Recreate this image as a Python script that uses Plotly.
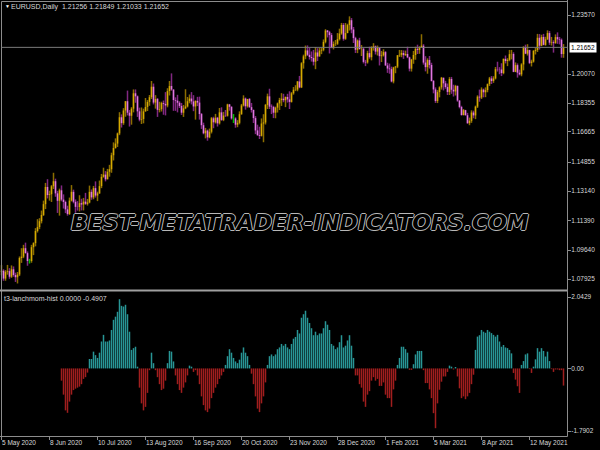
import plotly.graph_objects as go

# ---------------- data ----------------
date_tick_idx = [0, 24, 48, 72, 96, 120, 144, 168, 192, 216, 240, 264]
date_tick_text = ["5 May 2020", "8 Jun 2020", "10 Jul 2020", "13 Aug 2020", "16 Sep 2020",
                  "20 Oct 2020", "23 Nov 2020", "28 Dec 2020", "1 Feb 2021", "5 Mar 2021",
                  "8 Apr 2021", "12 May 2021"]
price_ticks = [1.23570, 1.20070, 1.18355, 1.16665, 1.14855, 1.13140, 1.11390, 1.09640, 1.07925]
price_tick_text = ["1.23570", "1.20070", "1.18355", "1.16665", "1.14855", "1.13140",
                   "1.11390", "1.09640", "1.07925"]
hist_ticks = [2.0429, 0.0, -1.7902]
hist_tick_text = ["2.0429", "0.00", "-1.7902"]
last_price = 1.21652
header_text = "EURUSD,Daily  1.21256 1.21849 1.21033 1.21652"
indicator_text = "t3-lanchmom-hist 0.0000 -0.4907"
watermark_text = "BEST-METATRADER-INDICATORS.COM"

close_ = [1.0841,1.0795,1.0835,1.0839,1.0806,1.0850,1.0816,1.0803,1.0819,1.0917,
1.0925,1.0975,1.0946,1.0899,1.0899,1.0981,1.1005,1.1077,1.1100,1.1135,
1.1172,1.1236,1.1338,1.1290,1.1295,1.1342,1.1372,1.1300,1.1256,1.1318,
1.1263,1.1249,1.1205,1.1178,1.1257,1.1309,1.1250,1.1220,1.1219,1.1242,
1.1234,1.1251,1.1238,1.1246,1.1309,1.1276,1.1331,1.1287,1.1300,1.1343,
1.1398,1.1411,1.1383,1.1428,1.1443,1.1526,1.1569,1.1595,1.1655,1.1751,
1.1716,1.1791,1.1846,1.1778,1.1760,1.1802,1.1893,1.1875,1.1786,1.1737,
1.1741,1.1786,1.1812,1.1842,1.1870,1.1932,1.1838,1.1859,1.1795,1.1799,
1.1835,1.1830,1.1821,1.1906,1.1936,1.1915,1.1853,1.1849,1.1837,1.1818,
1.1778,1.1804,1.1815,1.1846,1.1862,1.1845,1.1815,1.1848,1.1838,1.1770,
1.1704,1.1656,1.1672,1.1632,1.1665,1.1745,1.1721,1.1748,1.1715,1.1780,
1.1735,1.1761,1.1760,1.1827,1.1813,1.1744,1.1744,1.1707,1.1718,1.1769,
1.1821,1.1862,1.1816,1.1859,1.1811,1.1794,1.1746,1.1673,1.1646,1.1641,
1.1714,1.1720,1.1824,1.1875,1.1814,1.1812,1.1778,1.1808,1.1833,1.1853,
1.1861,1.1852,1.1871,1.1857,1.1842,1.1893,1.1914,1.1915,1.1963,1.1928,
1.2071,1.2112,1.2147,1.2121,1.2108,1.2102,1.2080,1.2135,1.2111,1.2146,
1.2151,1.2198,1.2265,1.2255,1.2238,1.2164,1.2185,1.2187,1.2214,1.2247,
1.2298,1.2216,1.2250,1.2297,1.2326,1.2271,1.2220,1.2151,1.2206,1.2155,
1.2157,1.2079,1.2076,1.2131,1.2107,1.2166,1.2171,1.2140,1.2161,1.2113,
1.2118,1.2137,1.2058,1.2040,1.2036,1.1963,1.2046,1.2051,1.2118,1.2121,
1.2132,1.2119,1.2126,1.2106,1.2039,1.2093,1.2120,1.2156,1.2150,1.2166,
1.2175,1.2075,1.2048,1.2090,1.2061,1.1966,1.1916,1.1847,1.1900,1.1928,
1.1985,1.1952,1.1930,1.1901,1.1978,1.1914,1.1904,1.1936,1.1850,1.1812,
1.1764,1.1793,1.1763,1.1716,1.1730,1.1779,1.1762,1.1814,1.1873,1.1868,
1.1915,1.1899,1.1912,1.1947,1.1981,1.1966,1.1981,1.2036,1.2035,1.2034,
1.2013,1.2097,1.2084,1.2091,1.2125,1.2126,1.2020,1.2060,1.2015,1.2005,
1.2064,1.2165,1.2128,1.2149,1.2073,1.2081,1.2144,1.2150,1.2222,1.2175,
1.2227,1.2180,1.2213,1.2250,1.2193,1.2196,1.2190,1.2226,1.2213,1.2210,
1.21256,1.21652]

open_ = [1.0835,1.0841,1.0795,1.0835,1.0839,1.0806,1.0850,1.0816,1.0803,1.0819,
1.0917,1.0925,1.0975,1.0946,1.0899,1.0899,1.0981,1.1005,1.1077,1.1100,
1.1135,1.1172,1.1236,1.1338,1.1290,1.1295,1.1342,1.1372,1.1300,1.1256,
1.1318,1.1263,1.1249,1.1205,1.1178,1.1257,1.1309,1.1250,1.1220,1.1219,
1.1242,1.1234,1.1251,1.1238,1.1246,1.1309,1.1276,1.1331,1.1287,1.1300,
1.1343,1.1398,1.1411,1.1383,1.1428,1.1443,1.1526,1.1569,1.1595,1.1655,
1.1751,1.1716,1.1791,1.1846,1.1778,1.1760,1.1802,1.1893,1.1875,1.1786,
1.1737,1.1741,1.1786,1.1812,1.1842,1.1870,1.1932,1.1838,1.1859,1.1795,
1.1799,1.1835,1.1830,1.1821,1.1906,1.1936,1.1915,1.1853,1.1849,1.1837,
1.1818,1.1778,1.1804,1.1815,1.1846,1.1862,1.1845,1.1815,1.1848,1.1838,
1.1770,1.1704,1.1656,1.1672,1.1632,1.1665,1.1745,1.1721,1.1748,1.1715,
1.1780,1.1735,1.1761,1.1760,1.1827,1.1813,1.1744,1.1744,1.1707,1.1718,
1.1769,1.1821,1.1862,1.1816,1.1859,1.1811,1.1794,1.1746,1.1673,1.1646,
1.1641,1.1714,1.1720,1.1824,1.1875,1.1814,1.1812,1.1778,1.1808,1.1833,
1.1853,1.1861,1.1852,1.1871,1.1857,1.1842,1.1893,1.1914,1.1915,1.1963,
1.1928,1.2071,1.2112,1.2147,1.2121,1.2108,1.2102,1.2080,1.2135,1.2111,
1.2146,1.2151,1.2198,1.2265,1.2255,1.2238,1.2164,1.2185,1.2187,1.2214,
1.2247,1.2298,1.2216,1.2250,1.2297,1.2326,1.2271,1.2220,1.2151,1.2206,
1.2155,1.2157,1.2079,1.2076,1.2131,1.2107,1.2166,1.2171,1.2140,1.2161,
1.2113,1.2118,1.2137,1.2058,1.2040,1.2036,1.1963,1.2046,1.2051,1.2118,
1.2121,1.2132,1.2119,1.2126,1.2106,1.2039,1.2093,1.2120,1.2156,1.2150,
1.2166,1.2175,1.2075,1.2048,1.2090,1.2061,1.1966,1.1916,1.1847,1.1900,
1.1928,1.1985,1.1952,1.1930,1.1901,1.1978,1.1914,1.1904,1.1936,1.1850,
1.1812,1.1764,1.1793,1.1763,1.1716,1.1730,1.1779,1.1762,1.1814,1.1873,
1.1868,1.1915,1.1899,1.1912,1.1947,1.1981,1.1966,1.1981,1.2036,1.2035,
1.2034,1.2013,1.2097,1.2084,1.2091,1.2125,1.2126,1.2020,1.2060,1.2015,
1.2005,1.2064,1.2165,1.2128,1.2149,1.2073,1.2081,1.2144,1.2150,1.2222,
1.2175,1.2227,1.2180,1.2213,1.2250,1.2193,1.2196,1.2190,1.2226,1.2213,
1.2210,1.21256]

high_ = [1.0875,1.0850,1.0845,1.0876,1.0857,1.0873,1.0867,1.0830,1.0834,1.0926,
1.0975,1.0995,1.1008,1.0956,1.0912,1.0995,1.1010,1.1094,1.1147,1.1153,
1.1198,1.1257,1.1362,1.1384,1.1316,1.1349,1.1422,1.1387,1.1315,1.1328,
1.1347,1.1294,1.1257,1.1227,1.1275,1.1349,1.1322,1.1264,1.1254,1.1289,
1.1268,1.1273,1.1303,1.1267,1.1346,1.1323,1.1344,1.1371,1.1310,1.1376,
1.1415,1.1452,1.1432,1.1445,1.1469,1.1541,1.1602,1.1626,1.1660,1.1781,
1.1768,1.1805,1.1847,1.1909,1.1794,1.1811,1.1916,1.1916,1.1880,1.1808,
1.1809,1.1802,1.1865,1.1853,1.1883,1.1966,1.1951,1.1882,1.1865,1.1843,
1.1843,1.1850,1.1900,1.1923,1.1966,1.2011,1.1917,1.1869,1.1884,1.1846,
1.1836,1.1824,1.1917,1.1871,1.1886,1.1900,1.1882,1.1851,1.1872,1.1873,
1.1776,1.1719,1.1688,1.1678,1.1684,1.1752,1.1754,1.1771,1.1753,1.1806,
1.1810,1.1783,1.1794,1.1831,1.1830,1.1816,1.1770,1.1751,1.1734,1.1786,
1.1830,1.1881,1.1868,1.1860,1.1865,1.1836,1.1797,1.1758,1.1707,1.1695,
1.1744,1.1769,1.1830,1.1891,1.1920,1.1827,1.1819,1.1814,1.1838,1.1866,
1.1894,1.1890,1.1874,1.1890,1.1905,1.1900,1.1930,1.1941,1.1966,1.1996,
1.2077,1.2122,1.2176,1.2177,1.2163,1.2141,1.2150,1.2167,1.2160,1.2162,
1.2163,1.2212,1.2273,1.2268,1.2263,1.2250,1.2200,1.2209,1.2250,1.2276,
1.2310,1.2309,1.2310,1.2305,1.2349,1.2339,1.2286,1.2228,1.2212,1.2222,
1.2179,1.2163,1.2091,1.2145,1.2169,1.2172,1.2190,1.2176,1.2176,1.2167,
1.2144,1.2154,1.2143,1.2074,1.2069,1.2051,1.2050,1.2055,1.2120,1.2150,
1.2149,1.2147,1.2146,1.2169,1.2110,1.2097,1.2144,1.2169,1.2181,1.2172,
1.2243,1.2184,1.2113,1.2100,1.2114,1.2074,1.1972,1.1928,1.1912,1.1934,
1.1990,1.1986,1.1967,1.1951,1.1989,1.1990,1.1944,1.1943,1.1940,1.1852,
1.1819,1.1800,1.1795,1.1777,1.1749,1.1792,1.1790,1.1820,1.1881,1.1915,
1.1928,1.1921,1.1928,1.1951,1.1990,1.1995,1.1994,1.2049,1.2080,1.2048,
1.2071,1.2099,1.2117,1.2101,1.2150,1.2150,1.2136,1.2076,1.2070,1.2033,
1.2071,1.2172,1.2181,1.2184,1.2151,1.2092,1.2149,1.2162,1.2245,1.2244,
1.2240,1.2245,1.2228,1.2266,1.2262,1.2227,1.2207,1.2242,1.2254,1.2227,
1.2218,1.21849]

low_ = [1.0815,1.0782,1.0782,1.0818,1.0794,1.0799,1.0806,1.0775,1.0766,1.0810,
1.0888,1.0916,1.0943,1.0871,1.0884,1.0889,1.0934,1.0986,1.1068,1.1088,
1.1122,1.1166,1.1207,1.1270,1.1257,1.1249,1.1326,1.1280,1.1184,1.1168,
1.1253,1.1210,1.1183,1.1168,1.1172,1.1252,1.1241,1.1185,1.1198,1.1193,
1.1199,1.1199,1.1232,1.1228,1.1241,1.1262,1.1265,1.1275,1.1254,1.1297,
1.1331,1.1393,1.1371,1.1384,1.1399,1.1422,1.1495,1.1565,1.1575,1.1645,
1.1690,1.1706,1.1754,1.1762,1.1696,1.1707,1.1780,1.1837,1.1753,1.1727,
1.1711,1.1715,1.1784,1.1788,1.1819,1.1859,1.1827,1.1802,1.1753,1.1780,
1.1785,1.1766,1.1762,1.1810,1.1880,1.1908,1.1789,1.1789,1.1780,1.1806,
1.1765,1.1753,1.1799,1.1809,1.1834,1.1827,1.1787,1.1737,1.1817,1.1737,
1.1682,1.1650,1.1626,1.1612,1.1627,1.1655,1.1686,1.1714,1.1696,1.1708,
1.1730,1.1728,1.1753,1.1755,1.1790,1.1737,1.1717,1.1689,1.1692,1.1709,
1.1766,1.1815,1.1796,1.1808,1.1807,1.1779,1.1717,1.1651,1.1640,1.1622,
1.1637,1.1603,1.1708,1.1800,1.1800,1.1770,1.1746,1.1745,1.1779,1.1794,
1.1818,1.1840,1.1811,1.1838,1.1800,1.1838,1.1885,1.1906,1.1905,1.1923,
1.1924,1.2039,1.2095,1.2114,1.2093,1.2081,1.2058,1.2036,1.2084,1.2111,
1.2125,1.2142,1.2189,1.2224,1.2129,1.2160,1.2153,1.2174,1.2180,1.2206,
1.2240,1.2205,1.2210,1.2249,1.2265,1.2249,1.2191,1.2132,1.2131,1.2152,
1.2114,1.2070,1.2054,1.2069,1.2098,1.2088,1.2146,1.2123,1.2117,1.2058,
1.2078,1.2111,1.2056,1.2014,1.2009,1.1958,1.1952,1.2012,1.2042,1.2108,
1.2107,1.2097,1.2115,1.2101,1.2023,1.2022,1.2068,1.2092,1.2126,1.2127,
1.2165,1.2063,1.2023,1.2009,1.2040,1.1963,1.1893,1.1836,1.1835,1.1869,
1.1915,1.1910,1.1920,1.1883,1.1883,1.1890,1.1874,1.1880,1.1843,1.1804,
1.1761,1.1762,1.1761,1.1712,1.1704,1.1718,1.1745,1.1740,1.1806,1.1843,
1.1859,1.1869,1.1870,1.1899,1.1936,1.1948,1.1955,1.1975,1.2022,1.2006,
1.1995,1.2006,1.2070,1.2054,1.2083,1.2094,1.2018,1.2018,1.1986,1.1999,
1.1994,1.2029,1.2125,1.2117,1.2066,1.2052,1.2075,1.2123,1.2138,1.2152,
1.2172,1.2177,1.2175,1.2209,1.2180,1.2176,1.2134,1.2187,1.2186,1.2183,
1.2104,1.21033]

hist_ = [None]*30 + [
-0.35,-0.75,-1.20,-1.27,-0.95,-0.75,-0.62,-0.58,-0.55,-0.52,-0.45,-0.30,-0.25,-0.12,
0.27,0.27,0.48,0.38,0.30,0.45,0.77,0.96,0.77,0.77,0.80,1.10,1.39,1.48,1.62,1.98,1.79,1.77,1.82,1.55,1.05,0.53,0.58,0.62,0.05,
-0.55,-1.00,-1.20,-1.10,-0.70,
-0.05,
0.45,0.15,
-0.05,-0.25,-0.45,-0.62,-0.58,-0.35,
0.15,0.50,0.48,0.20,
-0.20,-0.45,-0.62,-0.70,-0.55,-0.40,-0.20,
0.08,0.05,
-0.10,-0.05,-0.20,-0.45,-0.80,-1.05,-1.20,-1.25,-1.15,-0.85,
-0.70,-0.55,-0.45,-0.30,-0.20,-0.10,0.10,0.35,0.55,0.45,
0.30,0.20,0.15,0.25,0.45,0.60,0.45,0.35,0.10,-0.15,
-0.45,-0.80,-1.15,-1.25,-1.00,-0.80,-0.40,0.10,0.35,0.40,
0.35,0.40,0.55,0.60,0.70,0.65,0.70,0.60,0.55,0.70,
0.85,0.90,1.10,1.00,1.45,1.55,1.65,1.45,1.30,1.15,
0.95,1.05,0.95,1.00,1.00,1.15,1.35,1.25,1.10,0.70,
0.65,0.55,0.60,0.75,0.95,0.60,0.65,0.80,0.95,0.65,
0.30,-0.20,-0.20,-0.45,-0.55,-0.95,-1.10,-0.75,-0.65,-0.35,
-0.25,-0.35,-0.30,-0.50,-0.50,-0.40,-0.75,-0.85,-0.85,-1.10,
-0.60,-0.35,0.10,0.30,
0.62,0.62,0.55,0.45,-0.04,-0.04,0.12,0.40,0.50,0.50,
0.50,-0.05,-0.42,-0.42,-0.60,-0.85,-1.28,-1.71,-1.00,-0.61,
-0.38,-0.23,-0.23,-0.10,0.08,0.05,-0.03,0.04,-0.23,-0.57,
-0.85,-0.80,-0.88,-0.80,-0.70,-0.45,-0.18,0.53,0.91,0.95,
1.10,1.05,1.02,1.10,1.05,1.01,0.96,0.91,0.96,0.77,
0.62,0.67,0.60,0.58,0.53,0.43,-0.13,-0.32,-0.51,-0.70,
0.10,0.21,0.40,0.43,-0.02,-0.13,0.05,0.26,0.58,0.48,
0.58,0.50,0.34,0.48,0.21,-0.02,-0.10,-0.03,-0.03,-0.05,
-0.05,-0.4907]

# ---------------- styling ----------------
W, H = 600, 450
X_RIGHT = 567
MAIN_TOP, MAIN_BOT = 2, 289
SUB_TOP, SUB_BOT = 293, 436
AX = "#8c8c8c"
TXT = "#d8d8d8"
FONT = "Liberation Sans"
UP_BODY, UP_WICK = "rgb(214,170,0)", "rgb(140,110,0)"
DN_BODY, DN_WICK = "rgb(224,120,224)", "rgb(130,40,130)"
DOJI = "rgb(0,190,0)"
POS, NEG = "rgb(40,150,150)", "rgb(160,30,30)"
WM = "#b8b8b8"
BAR_W = 1.5

idx = list(range(len(close_)))


def segments(xs, y0s, y1s):
    sx, sy = [], []
    for x, a, b in zip(xs, y0s, y1s):
        sx += [x, x, None]
        sy += [a, b, None]
    return sx, sy


groups = {"up": [], "dn": [], "doji": []}
for i, (o, c) in enumerate(zip(open_, close_)):
    groups["up" if c > o else ("dn" if c < o else "doji")].append(i)

fig = go.Figure()
wick_colors = {"up": UP_WICK, "dn": DN_WICK, "doji": DOJI}
body_colors = {"up": UP_BODY, "dn": DN_BODY, "doji": DOJI}
for key in ["up", "dn", "doji"]:
    ii = groups[key]
    sx, sy = segments(ii, [low_[i] for i in ii], [high_[i] for i in ii])
    fig.add_trace(go.Scatter(x=sx, y=sy, mode="lines",
                             line=dict(color=wick_colors[key], width=BAR_W),
                             xaxis="x", yaxis="y", hoverinfo="skip"))
for key in ["up", "dn"]:
    ii = groups[key]
    sx, sy = segments(ii, [open_[i] for i in ii], [close_[i] for i in ii])
    fig.add_trace(go.Scatter(x=sx, y=sy, mode="lines",
                             line=dict(color=body_colors[key], width=BAR_W),
                             xaxis="x", yaxis="y", hoverinfo="skip"))

pos_i = [i for i, v in enumerate(hist_) if v is not None and v > 0]
neg_i = [i for i, v in enumerate(hist_) if v is not None and v < 0]
for ii, col in [(pos_i, POS), (neg_i, NEG)]:
    sx, sy = segments(ii, [0.0] * len(ii), [hist_[i] for i in ii])
    fig.add_trace(go.Scatter(x=sx, y=sy, mode="lines", line=dict(color=col, width=BAR_W),
                             xaxis="x2", yaxis="y2", hoverinfo="skip"))

ppx = (price_ticks[0] - price_ticks[-1]) / (279 - 15)
main_top_val = price_ticks[0] + (15 - MAIN_TOP) * ppx
main_bot_val = main_top_val - (MAIN_BOT - MAIN_TOP) * ppx
hpx = (hist_ticks[0] - hist_ticks[2]) / (431 - 297)
zero_px = 297 + hist_ticks[0] / hpx
sub_top_val = (zero_px - SUB_TOP) * hpx
sub_bot_val = -(SUB_BOT - zero_px) * hpx

xr = [-0.75, -0.75 + X_RIGHT / 2.0]
xdom = [0, X_RIGHT / W]
tf = dict(family=FONT, size=6.5, color=TXT)

fig.update_layout(
    width=W, height=H, margin=dict(l=0, r=0, t=0, b=0, autoexpand=False),
    paper_bgcolor="black", plot_bgcolor="black", showlegend=False,
    xaxis=dict(domain=xdom, range=xr, anchor="y", showticklabels=False, showgrid=False,
               zeroline=False, ticks="", automargin=False),
    yaxis=dict(domain=[1 - MAIN_BOT / H, 1 - MAIN_TOP / H], range=[main_bot_val, main_top_val],
               anchor="x", side="right", tickvals=price_ticks, ticktext=price_tick_text,
               ticks="outside", ticklen=3, tickcolor=AX, tickfont=tf, showgrid=False,
               zeroline=False, showline=False, automargin=False, ticklabelstandoff=-1),
    xaxis2=dict(domain=xdom, range=xr, anchor="y2", tickvals=date_tick_idx,
                ticktext=date_tick_text, ticks="outside", ticklen=3, tickcolor=AX,
                tickfont=tf, ticklabelposition="outside right", tickangle=0, showgrid=False,
                zeroline=False, showline=False, automargin=False),
    yaxis2=dict(domain=[1 - SUB_BOT / H, 1 - SUB_TOP / H], range=[sub_bot_val, sub_top_val],
                anchor="x2", side="right", tickvals=hist_ticks, ticktext=hist_tick_text,
                ticks="outside", ticklen=3, tickcolor=AX, tickfont=tf, showgrid=False,
                zeroline=False, showline=False, automargin=False, ticklabelstandoff=-1),
)


def pline(x0, y0, x1, y1, w=1, color=AX):
    fig.add_shape(type="line", xref="paper", yref="paper", x0=x0 / W, x1=x1 / W,
                  y0=1 - y0 / H, y1=1 - y1 / H, line=dict(color=color, width=w))


# pane borders
pline(1.5, MAIN_TOP - 0.5, X_RIGHT, MAIN_TOP - 0.5)
pline(1.5, MAIN_TOP - 0.5, 1.5, SUB_BOT)
pline(X_RIGHT + 0.5, 0, X_RIGHT + 0.5, SUB_BOT + 0.5)
pline(0, MAIN_BOT + 1.5, X_RIGHT, MAIN_BOT + 1.5, w=2, color="#a0a0a0")
pline(0, SUB_BOT + 0.5, X_RIGHT + 0.5, SUB_BOT + 0.5)

# current price line
fig.add_shape(type="line", xref="paper", yref="y", x0=1.5 / W, x1=X_RIGHT / W,
              y0=last_price, y1=last_price, line=dict(color="#7a7a7a", width=1))

fig.add_annotation(xref="paper", yref="y", x=(X_RIGHT + 2) / W, y=last_price,
                   text=f"{last_price:.5f}", showarrow=False, xanchor="left", yanchor="middle",
                   bgcolor="white", borderpad=1, font=dict(family=FONT, size=6.5, color="black"))

fig.add_annotation(xref="paper", yref="paper", x=3 / W, y=1 - 6 / H, text="▼", showarrow=False,
                   xanchor="left", yanchor="middle", font=dict(family=FONT, size=5, color="white"))
fig.add_annotation(xref="paper", yref="paper", x=9 / W, y=1 - 7 / H, text=header_text,
                   showarrow=False, xanchor="left", yanchor="middle",
                   font=dict(family=FONT, size=7, color=TXT))
fig.add_annotation(xref="paper", yref="paper", x=2 / W, y=1 - 298 / H, text=indicator_text,
                   showarrow=False, xanchor="left", yanchor="middle",
                   font=dict(family=FONT, size=7, color=TXT))

fig.add_annotation(xref="paper", yref="paper", x=300 / W, y=1 - 222 / H, text=watermark_text,
                   showarrow=False, xanchor="center", yanchor="middle",
                   font=dict(family="DejaVu Sans", size=22, color="black", style="italic",
                             weight="bold",
                             shadow=f"1px 0 0 {WM}, -1px 0 0 {WM}, 0 1px 0 {WM}, 0 -1px 0 {WM}"))

fig.write_html("out.html", config={"displayModeBar": False, "staticPlot": True},
               post_script="document.body.style.margin='0px';document.body.style.padding='0px';")
